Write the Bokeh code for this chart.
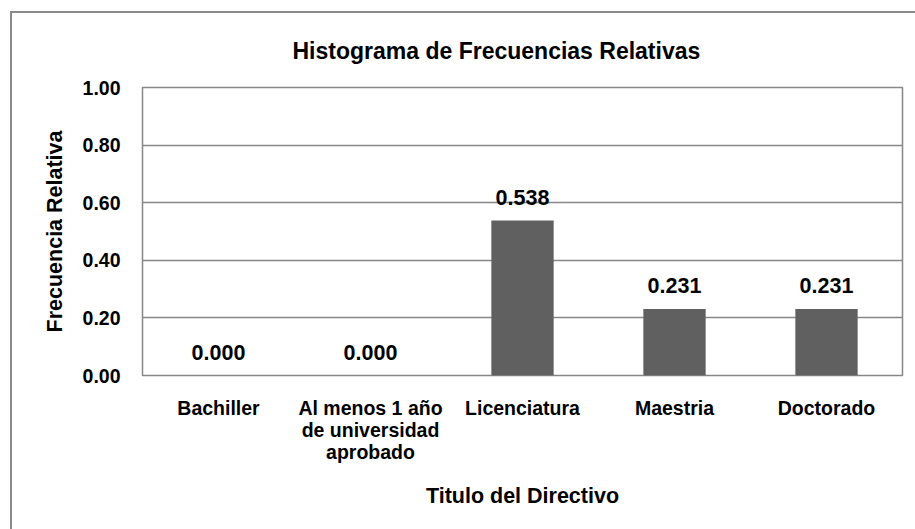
from bokeh.plotting import figure
from bokeh.models import (ColumnDataSource, FactorRange, FixedTicker, NumeralTickFormatter, Range1d)
from bokeh.core.properties import value
from bokeh.embed import file_html
from bokeh.resources import INLINE

# ---- data ----
categories = ["Bachiller", "Al menos 1 año\nde universidad\naprobado", "Licenciatura", "Maestria", "Doctorado"]
values = [0.000, 0.000, 0.538, 0.231, 0.231]
y_ticks = [0.0, 0.2, 0.4, 0.6, 0.8, 1.0]
title_text = "Histograma de Frecuencias  Relativas"
x_title = "Titulo del Directivo"
y_title = "Frecuencia Relativa"

labels = [f"{v:.3f}" for v in values]
src = ColumnDataSource(dict(cat=categories, val=values, lab=labels))

FONT = "Liberation Sans"
GRID = "#878787"
BAR = "#606060"
EDGE = "#8a8a8a"

W, H = 915, 529
p = figure(x_range=FactorRange(*categories, range_padding=0), y_range=Range1d(0, 1),
           width=W, height=H, output_backend="svg", toolbar_location=None,
           min_border_left=142, min_border_right=W - 902, min_border_top=87, min_border_bottom=H - 375,
           background_fill_color="white", border_fill_color=None)

# outer chart border (left/top edges; right/bottom lie outside the window)
p.styles = {
    "background-color": "white",
    "background-image": f"linear-gradient({EDGE}, {EDGE}), linear-gradient({EDGE}, {EDGE})",
    "background-size": "2px 100%, 100% 2px",
    "background-position": "10px 11px, 10px 11px",
    "background-repeat": "no-repeat",
}

p.vbar(x="cat", top="val", width=0.41, source=src, fill_color=BAR, line_color=None)
p.text(x="cat", y="val", text="lab", source=src, text_align="center", text_baseline="middle",
       y_offset=-23, text_font=value(FONT), text_font_style="bold", text_font_size="21.5px",
       text_color="black")

# title
p.title.text = title_text
p.title.text_font = FONT
p.title.text_font_style = "bold"
p.title.text_font_size = "23px"
p.title.text_color = "black"
p.title.align = "left"
p.title.offset = 150
p.title.standoff = 48

# frame / grid
p.outline_line_color = GRID
p.outline_line_width = 1.5
p.xgrid.grid_line_color = None
p.ygrid.grid_line_color = GRID
p.ygrid.grid_line_width = 1.5
p.yaxis.ticker = FixedTicker(ticks=y_ticks)
p.yaxis.formatter = NumeralTickFormatter(format="0.00")

for ax in (p.xaxis, p.yaxis):
    ax.axis_line_color = None
    ax.major_tick_line_color = None
    ax.minor_tick_line_color = None
    ax.major_tick_out = 0
    ax.major_tick_in = 0
    ax.major_label_text_font = FONT
    ax.major_label_text_font_style = "bold"
    ax.major_label_text_font_size = "19.5px"
    ax.major_label_text_color = "black"
    ax.axis_label_text_font = FONT
    ax.axis_label_text_font_style = "bold"
    ax.axis_label_text_font_size = "21.5px"
    ax.axis_label_text_color = "black"

p.yaxis.axis_label = y_title
p.yaxis.major_label_standoff = 22
p.yaxis.axis_label_standoff = 13
p.xaxis.axis_label = x_title
p.xaxis.major_label_standoff = 21
p.xaxis.major_label_text_line_height = 1.0
p.xaxis.axis_label_standoff = 18

open("out.html", "w").write(file_html(p, INLINE))
